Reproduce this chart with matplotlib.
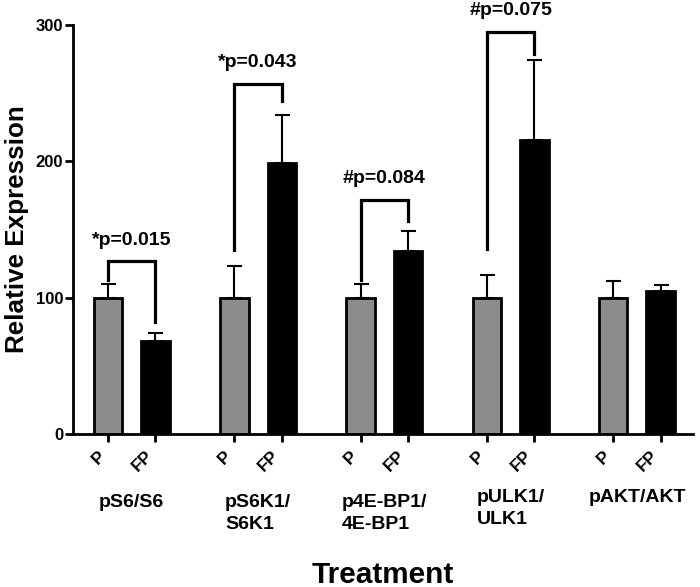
import matplotlib
matplotlib.use("Agg")
import matplotlib.pyplot as plt
import numpy as np

plt.rcParams['font.family'] = ['Liberation Sans', 'DejaVu Sans']
plt.rcParams['font.weight'] = 'bold'

groups = ["pS6/S6", "pS6K1/\nS6K1", "p4E-BP1/\n4E-BP1", "pULK1/\nULK1", "pAKT/AKT"]
treatments = ["P", "FP"]
p_means = [100, 100, 100, 100, 100]
p_err = [10, 23, 10, 17, 12]
fp_means = [68, 199, 134, 216, 105]
fp_err = [6, 35, 15, 58, 4]
p_labels = ["*p=0.015", "*p=0.043", "#p=0.084", "#p=0.075", None]
bracket_top = [127, 257, 172, 295, None]
bracket_left = [113, 135, 113, 136, None]
bracket_right = [82, 244, 156, 279, None]
yticks = [0, 100, 200, 300]

fig = plt.figure(figsize=(7.0, 5.87), dpi=100)
ax = fig.add_axes([0.1043, 0.2606, 0.8857, 0.6968])

spacing = 2.66
xp = np.arange(len(groups)) * spacing
xf = xp + 1.0
w = 0.6

ax.bar(xp, p_means, width=w, color="#8c8c8c", edgecolor="black", linewidth=2, zorder=2)
ax.bar(xf, fp_means, width=w, color="black", edgecolor="black", linewidth=2, zorder=2)
ax.errorbar(xp, p_means, yerr=[np.zeros(len(p_err)), p_err], fmt="none", ecolor="black",
            elinewidth=1.5, capsize=5.4, capthick=1.5, zorder=1)
ax.errorbar(xf, fp_means, yerr=[np.zeros(len(fp_err)), fp_err], fmt="none", ecolor="black",
            elinewidth=1.5, capsize=5.4, capthick=1.5, zorder=1)

for i in range(len(groups)):
    if p_labels[i] is None:
        continue
    ax.plot([xp[i], xp[i], xf[i], xf[i]],
            [bracket_left[i], bracket_top[i], bracket_top[i], bracket_right[i]],
            color="black", lw=2.3, solid_joinstyle="miter", clip_on=False)
    ax.text((xp[i] + xf[i]) / 2, bracket_top[i] + 12, p_labels[i], ha="center", va="baseline",
            fontsize=14, fontweight="bold")

ax.set_ylim(0, 300)
ax.set_xlim(-0.737, 12.32)
ax.set_yticks(yticks)
ax.set_yticklabels([str(v) for v in yticks], fontsize=12, fontweight="bold")

xt = np.ravel(np.column_stack([xp, xf]))
ax.set_xticks(xt)
ax.set_xticklabels(treatments * len(groups), rotation=45, ha="right", fontsize=12.5,
                   fontweight="bold")

for s in ["top", "right"]:
    ax.spines[s].set_visible(False)
for s in ["left", "bottom"]:
    ax.spines[s].set_linewidth(2.0)
ax.tick_params(axis="both", width=2, length=6, direction="out")
ax.tick_params(axis="x", pad=4)
ax.tick_params(axis="y", pad=1)

ax.set_ylabel("Relative Expression", fontsize=18.7, fontweight="bold", labelpad=5)

group_y = [-0.147, -0.147, -0.147, -0.135, -0.135]
for i, g in enumerate(groups):
    ax.text((xp[i] + xf[i]) / 2, group_y[i], g, transform=ax.get_xaxis_transform(),
            ha="center", va="top", multialignment="left", fontsize=14, fontweight="bold",
            linespacing=1.4)

ax.text(0.5, -0.363, "Treatment", transform=ax.transAxes, ha="center", va="baseline",
        fontsize=21.4, fontweight="bold")

fig.savefig("out.png", dpi=100)
